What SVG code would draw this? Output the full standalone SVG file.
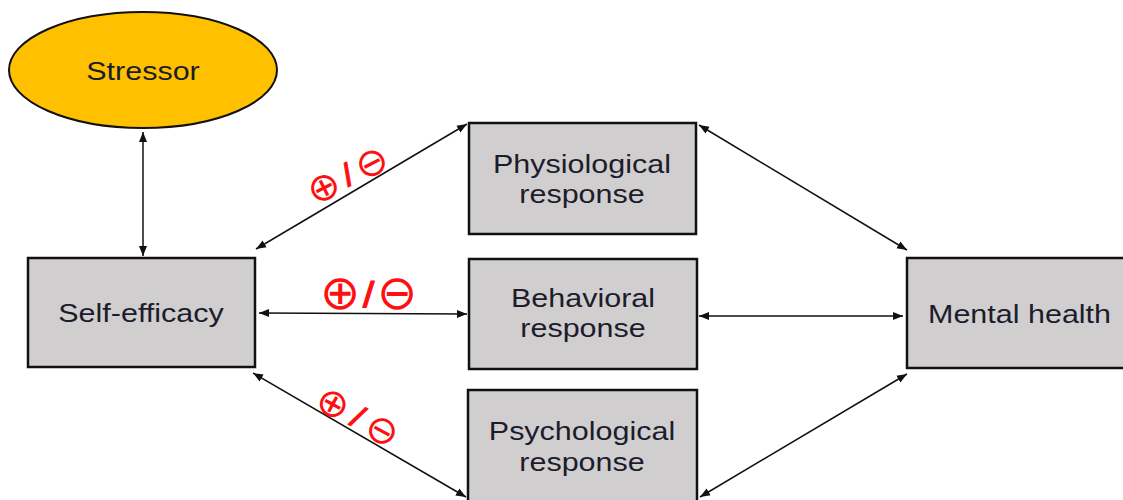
<svg xmlns="http://www.w3.org/2000/svg" width="1123" height="500" viewBox="0 0 1123 500">
<defs>
<marker id="ah" viewBox="0 0 10 10" refX="10" refY="5" markerWidth="10" markerHeight="10" markerUnits="userSpaceOnUse" orient="auto-start-reverse">
<path d="M0,1 L10,5 L0,9 Z" fill="#111"/>
</marker>
</defs>
<style>
.box{fill:#D0CECE;stroke:#111;stroke-width:2.5}
.lbl{font-family:"Liberation Sans",Arial,sans-serif;font-size:25px;fill:#1c1c2c;text-anchor:middle}
.con{stroke:#111;stroke-width:1.5;fill:none;marker-start:url(#ah);marker-end:url(#ah)}
.sym{font-family:"DejaVu Sans",sans-serif;fill:#ff1010;text-anchor:middle}
.sl{font-family:"DejaVu Sans",sans-serif;font-weight:bold;fill:#ff1010;stroke:#ff1010;stroke-width:1;text-anchor:middle}
</style>
<rect width="1123" height="500" fill="#fff"/>
<g id="connectors">
<line class="con" x1="143" y1="132" x2="143" y2="256"/>
<line class="con" x1="256" y1="249" x2="467" y2="124"/>
<line class="con" x1="259" y1="313" x2="467" y2="314"/>
<line class="con" x1="253" y1="373" x2="466" y2="497"/>
<line class="con" x1="699" y1="125" x2="907" y2="250"/>
<line class="con" x1="699" y1="316" x2="903" y2="316"/>
<line class="con" x1="700" y1="497" x2="907" y2="374"/>
</g>
<g id="labels">
<g transform="translate(347.5,174.5) rotate(-27)">
<text class="sym" x="-27" y="13.5" font-size="39">⊕</text>
<text class="sl" x="0" y="9" font-size="28">/</text>
<text class="sym" x="27" y="13.5" font-size="39">⊖</text>
</g>
<g transform="translate(368.5,293)">
<text class="sym" x="-28.5" y="16" font-size="48">⊕</text>
<text class="sl" x="0" y="11" font-size="32">/</text>
<text class="sym" x="28.5" y="16" font-size="48">⊖</text>
</g>
<g transform="translate(358,416.5) rotate(28.5)">
<text class="sym" x="-28" y="13.5" font-size="39">⊕</text>
<text class="sl" x="0" y="9" font-size="28">/</text>
<text class="sym" x="28" y="13.5" font-size="39">⊖</text>
</g>
</g>
<g id="stressor">
<ellipse cx="143" cy="70" rx="134" ry="58" fill="#FFC000" stroke="#111" stroke-width="2"/>
<text class="lbl" transform="translate(143,80) scale(1.22,1)">Stressor</text>
</g>
<g id="self-efficacy">
<rect class="box" x="28" y="258" width="227" height="109"/>
<text class="lbl" transform="translate(141,322) scale(1.22,1)">Self-efficacy</text>
</g>
<g id="physiological">
<rect class="box" x="469" y="123" width="227" height="111"/>
<text class="lbl" transform="translate(582,173) scale(1.22,1)">Physiological</text>
<text class="lbl" transform="translate(582,203) scale(1.22,1)">response</text>
</g>
<g id="behavioral">
<rect class="box" x="469" y="259" width="228" height="110"/>
<text class="lbl" transform="translate(583,307) scale(1.22,1)">Behavioral</text>
<text class="lbl" transform="translate(583,337) scale(1.22,1)">response</text>
</g>
<g id="psychological">
<rect class="box" x="468" y="390" width="229" height="112"/>
<text class="lbl" transform="translate(582,440) scale(1.22,1)">Psychological</text>
<text class="lbl" transform="translate(582,471) scale(1.22,1)">response</text>
</g>
<g id="mental-health">
<rect class="box" x="907" y="258" width="230" height="110"/>
<text class="lbl" transform="translate(1019.5,323) scale(1.22,1)">Mental health</text>
</g>
</svg>
